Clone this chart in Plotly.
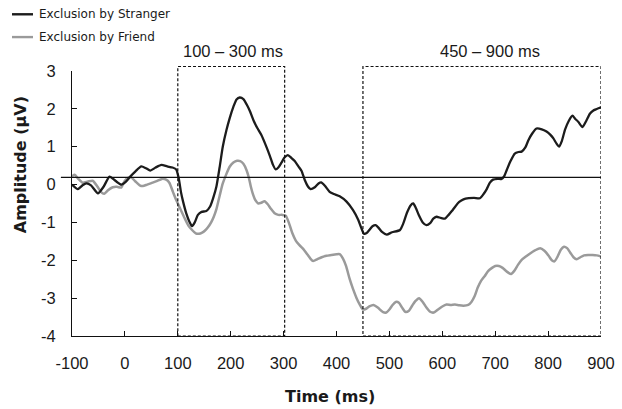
import plotly.graph_objects as go

# ---------------- data ----------------
series_names = ["Exclusion by Stranger", "Exclusion by Friend"]

stranger_t = [-100, -89, -80, -73, -64, -51, -40, -29, -18, -7, 2, 10, 20, 31, 40, 48, 58, 69, 80, 90, 97,
              102, 106, 110, 116, 122, 127, 132, 138, 145, 154, 161, 167, 173, 179, 185, 192, 198, 205, 211,
              217, 224, 230, 236, 243, 250, 258, 266, 274, 280, 285, 290, 296, 302, 308, 315, 321, 328, 334,
              340, 346, 351, 359, 366, 371, 378, 387, 395, 406, 419, 431, 441, 447, 452, 457, 462, 468, 474,
              480, 486, 495, 505, 520, 527, 533, 540, 545, 550, 556, 563, 570, 577, 583, 589, 597, 605, 612,
              618, 625, 632, 640, 650, 660, 671, 678, 684, 690, 696, 705, 712, 717, 722, 729, 737, 744, 750,
              757, 763, 770, 778, 788, 797, 804, 810, 816, 821, 826, 832, 839, 846, 851, 857, 865, 872, 879,
              885, 891, 900]
stranger_v = [0.00, -0.12, -0.02, 0.03, -0.02, -0.23, -0.05, 0.21, 0.10, 0.00, 0.08, 0.21, 0.35, 0.48, 0.43,
              0.37, 0.45, 0.52, 0.48, 0.45, 0.40, 0.15, -0.20, -0.45, -0.76, -0.98, -1.10, -1.00, -0.80,
              -0.72, -0.70, -0.58, -0.35, -0.05, 0.45, 1.00, 1.44, 1.75, 2.05, 2.25, 2.30, 2.26, 2.12, 1.95,
              1.70, 1.50, 1.31, 1.05, 0.76, 0.52, 0.40, 0.45, 0.58, 0.72, 0.78, 0.70, 0.62, 0.48, 0.36, 0.12,
              -0.05, -0.12, -0.07, 0.03, 0.06, -0.03, -0.19, -0.25, -0.31, -0.45, -0.67, -0.93, -1.15, -1.30,
              -1.28, -1.20, -1.10, -1.07, -1.15, -1.25, -1.32, -1.26, -1.20, -1.00, -0.75, -0.55, -0.50,
              -0.62, -0.82, -1.00, -1.07, -1.02, -0.90, -0.85, -0.88, -0.90, -0.80, -0.70, -0.57, -0.46,
              -0.39, -0.36, -0.35, -0.36, -0.25, -0.12, 0.05, 0.13, 0.15, 0.15, 0.22, 0.39, 0.62, 0.82, 0.86,
              0.87, 0.98, 1.18, 1.35, 1.48, 1.46, 1.40, 1.32, 1.22, 1.08, 1.00, 1.15, 1.45, 1.68, 1.82, 1.74,
              1.66, 1.52, 1.68, 1.87, 1.95, 1.99, 2.04]

friend_t = [-100, -95, -88, -80, -70, -61, -52, -45, -39, -32, -23, -15, -7, -1, 5, 12, 20, 28, 34, 42, 50,
            60, 70, 78, 84, 91, 97, 104, 113, 120, 127, 134, 140, 146, 151, 157, 163, 168, 173, 179, 185, 191,
            198, 205, 212, 218, 224, 230, 234, 238, 242, 247, 252, 258, 264, 270, 276, 283, 290, 297, 304, 311,
            317, 323, 330, 337, 345, 351, 356, 364, 372, 381, 390, 400, 406, 412, 418, 425, 431, 438, 444, 450,
            456, 462, 470, 478, 488, 494, 500, 506, 512, 518, 524, 530, 537, 543, 549, 556, 563, 570, 577, 584,
            592, 600, 608, 616, 624, 632, 640, 649, 655, 661, 667, 673, 680, 687, 694, 700, 707, 714, 722, 730,
            736, 743, 750, 758, 766, 775, 785, 793, 801, 807, 812, 818, 824, 830, 836, 842, 848, 854, 861, 868,
            876, 884, 892, 900]
friend_v = [0.22, 0.26, 0.15, 0.05, 0.08, 0.10, -0.05, -0.20, -0.24, -0.15, -0.07, -0.06, -0.08, 0.08, 0.17,
            0.19, 0.08, -0.02, -0.04, 0.00, 0.04, 0.09, 0.15, 0.13, 0.05, -0.20, -0.41, -0.62, -0.89, -1.08,
            -1.20, -1.29, -1.30, -1.27, -1.22, -1.13, -1.00, -0.85, -0.65, -0.30, 0.03, 0.25, 0.47, 0.58, 0.63,
            0.62, 0.55, 0.38, 0.20, -0.05, -0.25, -0.42, -0.50, -0.48, -0.44, -0.52, -0.64, -0.76, -0.80, -0.80,
            -0.82, -1.05, -1.30, -1.48, -1.60, -1.70, -1.85, -1.96, -2.02, -1.97, -1.92, -1.88, -1.86, -1.84,
            -1.84, -1.95, -2.15, -2.50, -2.75, -3.00, -3.17, -3.30, -3.28, -3.22, -3.18, -3.25, -3.37, -3.38,
            -3.30, -3.18, -3.10, -3.12, -3.25, -3.36, -3.33, -3.20, -3.08, -3.00, -3.10, -3.25, -3.36, -3.38,
            -3.30, -3.22, -3.17, -3.18, -3.17, -3.19, -3.20, -3.18, -3.10, -2.95, -2.72, -2.55, -2.42, -2.28,
            -2.20, -2.15, -2.15, -2.20, -2.30, -2.36, -2.28, -2.12, -1.99, -1.90, -1.82, -1.74, -1.68, -1.75,
            -1.88, -2.00, -2.03, -1.90, -1.72, -1.64, -1.68, -1.80, -1.92, -1.97, -1.92, -1.87, -1.86, -1.86,
            -1.87, -1.90]

x_ticks = [-100, 0, 100, 200, 300, 400, 500, 600, 700, 800, 900]
x_tick_labels = ["-100", "0", "100", "200", "300", "400", "500", "600", "700", "800", "900"]
y_ticks = [-4, -3, -2, -1, 0, 1, 2, 3]
y_tick_labels = ["-4", "-3", "-2", "-1", "0", "1", "2", "3"]

window_starts = [100, 450]
window_ends = [302, 900]
window_labels = ["100 – 300 ms", "450 – 900 ms"]
baseline_value = 0.19

X_RANGE = [-100, 900]
Y_RANGE = [-4, 3]

# ---------------- styles ----------------
C_STRANGER = "#1c1c1c"
C_FRIEND = "#9a9a9a"
TICK_FONT = dict(family="Liberation Sans, Arial, sans-serif", size=16.5, color="#1a1a1a")
TITLE_FONT = dict(family="DejaVu Sans, Verdana, sans-serif", size=16, color="#1a1a1a", weight="bold")
LEG_FONT = dict(family="DejaVu Sans, Verdana, sans-serif", size=12, color="#1a1a1a")
WIN_FONT = dict(family="Liberation Sans, Arial, sans-serif", size=16.5, color="#1a1a1a")

fig = go.Figure()
fig.add_trace(go.Scatter(x=friend_t, y=friend_v, mode="lines", name=series_names[1],
                         line=dict(color=C_FRIEND, width=2.5, shape="spline", smoothing=0.6),
                         showlegend=False))
fig.add_trace(go.Scatter(x=stranger_t, y=stranger_v, mode="lines", name=series_names[0],
                         line=dict(color=C_STRANGER, width=2.3, shape="spline", smoothing=0.6),
                         showlegend=False))

shapes = []
# baseline
shapes.append(dict(type="line", xref="paper", yref="y", x0=-0.021, x1=1, y0=baseline_value, y1=baseline_value,
                   line=dict(color="#111111", width=1.2), layer="above"))
# analysis windows (dashed boxes)
for s, e in zip(window_starts, window_ends):
    shapes.append(dict(type="rect", xref="x", yref="paper", x0=s, x1=e, y0=0, y1=1.017,
                       line=dict(color="#111111", width=1.2, dash="3px,2px"), fillcolor="rgba(0,0,0,0)",
                       layer="above"))
# legend line samples
for i, col in enumerate([C_STRANGER, C_FRIEND]):
    yy = 1.214 - i * 0.086
    shapes.append(dict(type="line", xref="paper", yref="paper", x0=-0.1134, x1=-0.0737, y0=yy, y1=yy,
                       line=dict(color=col, width=2.4)))

annotations = []
for i, name in enumerate(series_names):
    yy = 1.214 - i * 0.086
    annotations.append(dict(xref="paper", yref="paper", x=-0.066, y=yy, text=name, showarrow=False,
                            xanchor="left", yanchor="middle", font=LEG_FONT))
for s, e, lab, xc in zip(window_starts, window_ends, window_labels, [0.304, 0.790]):
    annotations.append(dict(xref="paper", yref="paper", x=xc, y=1.075, text=lab, showarrow=False,
                            xanchor="center", yanchor="middle", font=WIN_FONT))
annotations.append(dict(xref="paper", yref="paper", x=-0.098, y=0.645, text="Amplitude (µV)", textangle=-90,
                        showarrow=False, xanchor="center", yanchor="middle", font=TITLE_FONT))
annotations.append(dict(xref="paper", yref="paper", x=0.488, y=-0.230, text="Time (ms)",
                        showarrow=False, xanchor="center", yanchor="middle", font=TITLE_FONT))

fig.update_layout(
    width=622, height=409,
    margin=dict(l=72, r=21, t=71, b=73, autoexpand=False),
    paper_bgcolor="white", plot_bgcolor="white",
    shapes=shapes, annotations=annotations,
    showlegend=False,
)
fig.update_xaxes(range=X_RANGE, tickvals=x_ticks, ticktext=x_tick_labels, ticks="inside", ticklen=5,
                 tickcolor="#111111", showline=True, linecolor="#111111", linewidth=1.2, showgrid=False,
                 zeroline=False, tickfont=TICK_FONT, ticklabelstandoff=12, automargin=False)
fig.update_yaxes(range=Y_RANGE, tickvals=y_ticks, ticktext=y_tick_labels, ticks="inside", ticklen=5,
                 tickcolor="#111111", showline=True, linecolor="#111111", linewidth=1.2, showgrid=False,
                 zeroline=False, tickfont=TICK_FONT, ticklabelstandoff=12, automargin=False)

fig.write_html("out.html")
